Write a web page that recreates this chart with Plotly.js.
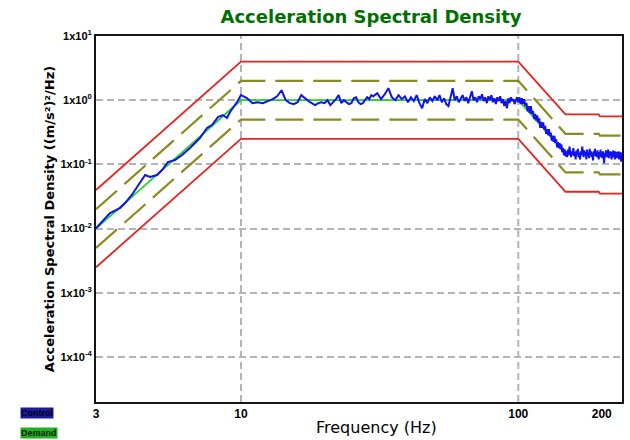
<!DOCTYPE html>
<html>
<head>
<meta charset="utf-8">
<script src="https://cdn.plot.ly/plotly-3.0.1.min.js"></script>
<style>html,body{margin:0;padding:0;background:#fff;}#chart{width:630px;height:440px;}</style>
</head>
<body>
<div id="chart"></div>
<script>
// ---- Demand profile and tolerance lines ----
const profileFreq  = [3, 10, 100, 148, 195, 197, 240];
const demandASD    = [0.01, 1, 1, 0.15, 0.15, 0.14, 0.14];
const abortHigh    = [0.04, 4, 4, 0.6, 0.6, 0.56, 0.56];
const abortLow     = [0.0025, 0.25, 0.25, 0.0375, 0.0375, 0.035, 0.035];
const alarmHigh    = [0.02, 2, 2, 0.3, 0.3, 0.28, 0.28];
const alarmLow     = [0.005, 0.5, 0.5, 0.075, 0.075, 0.07, 0.07];

const ctrlFreqA = [3.0,3.37,3.66,3.82,4.04,4.32,4.51,4.70,4.98,5.19,5.45,5.78,6.13,6.55,7.11,7.54,7.86,8.26,8.61,8.90,9.13,9.68];
const ctrlA     = [0.0101,0.0175,0.0209,0.0251,0.0334,0.0532,0.0684,0.0637,0.0684,0.0818,0.1089,0.117,0.140,0.180,0.258,0.369,0.411,0.547,0.588,0.528,0.655,0.938];

const ctrlFreqB = [10,10.5,11,11.5,12,12.5,13,13.5,14,14.5,15,15.5,16,16.5,17,17.5,18,18.5,19,19.5,
                   20,20.5,21,21.5,22,22.5,23,23.5,24,24.5,25,25.5,26,26.5,27,27.5,28,28.5,29,29.5];
const ctrlB     = [1.20,1.08,0.90,0.93,0.90,0.97,1.04,1.15,1.43,1.00,0.90,0.87,0.93,1.20,1.07,0.97,0.90,0.84,0.90,0.93,
                   0.90,1.00,0.84,0.93,1.04,1.20,0.90,1.00,0.93,0.87,0.90,1.07,1.11,0.93,0.87,0.90,1.00,1.11,1.04,1.20];

const ctrlFreqC = [30,31,32,33,34,35,36,37,38,39,40,41,42,43,44,45,46,47,48,49,
                   50,51,52,53,54,55,56,57,58,59,60,61,62,63,64,65,66,67,68,69,
                   70,71,72,73,74,75,76,77,78,79,80,81,82,83,84,85,86,87,88,89,
                   90,91,92,93,94,95,96,97,98,99];
const ctrlC     = [1.15,1.29,1.04,1.24,1.54,1.11,1.00,1.20,1.04,1.15,0.93,1.11,0.97,1.20,0.90,0.75,1.04,0.90,1.11,0.97,
                   1.15,1.00,1.20,0.93,1.07,0.87,0.81,1.11,1.54,1.00,1.15,0.93,1.04,1.20,0.97,1.11,0.90,1.15,1.38,1.00,
                   1.11,0.93,1.15,1.04,1.24,0.97,1.11,0.90,1.15,1.00,1.20,0.93,1.07,0.87,1.11,0.97,1.15,0.90,1.04,0.81,
                   0.97,0.75,1.07,0.90,1.11,0.97,1.04,0.87,1.00,1.11];

const ctrlFreqD = [100,101,102,103,104,105,106,107,108,109,110,111,112,113,114,115,116,117,118,119,
                   120,121,122,123,124,125,126,127,128,129,130,131,132,133,134,135,136,137,138,139,
                   140,141,142,143,144,145,146,147,148];
const ctrlD     = [0.93,1.11,0.87,1.07,0.87,1.04,0.81,0.91,0.67,0.81,0.63,0.81,0.61,0.68,0.51,0.61,0.48,0.58,0.45,0.52,
                   0.37,0.46,0.37,0.45,0.35,0.40,0.30,0.355,0.285,0.353,0.275,0.314,0.235,0.28,0.225,0.278,0.215,0.247,0.185,0.222,
                   0.179,0.214,0.172,0.206,0.155,0.179,0.139,0.172,0.134];

const ctrlFreqE = [149,150,151,152,153,154,155,156,157,158,159,160,161,162,163,164,165,166,167,168,
                   169,170,171,172,173,174,175,176,177,178,179,180,181,182,183,184,185,186,187,188,
                   189,190,191,192,193,194,195,196,197,198,199,200,201,202,203,204,205,206,207,208,
                   209,210,211,212,213,214,215,216,217,218,219,220,221,222,223,224,225,226,227,228,
                   229,230,231,232,233,234,235,236,237,238,239,240];
const ctrlE     = [0.16,0.13,0.17,0.14,0.19,0.15,0.13,0.16,0.14,0.18,0.135,0.155,0.12,0.165,0.14,0.175,0.13,0.15,0.12,0.16,
                   0.14,0.19,0.145,0.13,0.165,0.14,0.155,0.12,0.17,0.14,0.15,0.125,0.175,0.14,0.16,0.13,0.15,0.115,0.16,0.14,
                   0.175,0.135,0.15,0.13,0.165,0.14,0.12,0.155,0.14,0.17,0.13,0.15,0.125,0.16,0.14,0.105,0.15,0.135,0.165,0.13,
                   0.15,0.14,0.17,0.125,0.15,0.135,0.16,0.14,0.12,0.155,0.135,0.165,0.13,0.145,0.12,0.16,0.14,0.15,0.125,0.155,
                   0.135,0.16,0.12,0.145,0.13,0.155,0.11,0.14,0.125,0.15,0.13,0.14];

const controlFreq = [].concat(ctrlFreqA, ctrlFreqB, ctrlFreqC, ctrlFreqD, ctrlFreqE);
const controlASD  = [].concat(ctrlA, ctrlB, ctrlC, ctrlD, ctrlE);

// ---- Axis tick labels ----
const xTickVals = [3, 10, 100, 200];
const xTickText = ['3', '10', '100', '200'];
const yTickVals = [1e-4, 1e-3, 1e-2, 1e-1, 1e0, 1e1];
const yTickText = ['1x10<sup>-4</sup>', '1x10<sup>-3</sup>', '1x10<sup>-2</sup>', '1x10<sup>-1</sup>', '1x10<sup>0</sup>', '1x10<sup>1</sup>'];
const xGridAt = [10, 100];

const FONT = 'Liberation Sans, Arial, sans-serif';
const WIDE = 'DejaVu Sans, Verdana, sans-serif';
const RED = '#e8221c', OLIVE = '#8a8a1e', GREEN = '#28d428', BLUE = '#1212ee';

const line = (y, color, width, dash) => ({
  x: profileFreq, y: y, type: 'scatter', mode: 'lines',
  line: {color: color, width: width, dash: dash || 'solid'},
  hoverinfo: 'skip', showlegend: false
});

const traces = [
  line(abortHigh, RED, 1.8),
  line(abortLow, RED, 1.8),
  line(alarmHigh, OLIVE, 2.2, '28px,10px'),
  line(alarmLow, OLIVE, 2.2, '28px,10px'),
  line(demandASD, GREEN, 1.8),
  {x: controlFreq, y: controlASD, type: 'scatter', mode: 'lines',
   line: {color: BLUE, width: 2}, showlegend: false}
];

const gridShapes = xGridAt.map(f => ({
  type: 'line', xref: 'x', yref: 'paper', x0: f, x1: f, y0: 0, y1: 1,
  line: {color: '#b4b4b4', width: 2, dash: '7px,4px'}, layer: 'below'
}));

const layout = {
  width: 630, height: 440,
  margin: {l: 96, r: 8, t: 36, b: 38, pad: 0},
  paper_bgcolor: '#ffffff', plot_bgcolor: '#ffffff',
  font: {family: FONT, color: '#000'},
  title: {
    text: '<b>Acceleration Spectral Density</b>',
    font: {family: WIDE, size: 18, color: '#007000'},
    xref: 'container', x: 0.589, xanchor: 'center',
    yref: 'container', y: 0.962, yanchor: 'middle'
  },
  xaxis: {
    type: 'log', range: [Math.log10(3), 2.374],
    tickvals: xTickVals, ticktext: xTickText,
    showgrid: false, zeroline: false, ticks: '',
    showline: true, mirror: true, linecolor: '#151515', linewidth: 2,
    tickfont: {family: FONT, size: 12, color: '#000', weight: 'bold'}
  },
  yaxis: {
    type: 'log', range: [-4.7, 1],
    tickvals: yTickVals, ticktext: yTickText,
    showgrid: true, gridcolor: '#b4b4b4', gridwidth: 2, griddash: '7px,4px',
    zeroline: false, ticks: '',
    showline: true, mirror: true, linecolor: '#151515', linewidth: 2,
    tickfont: {family: FONT, size: 11, color: '#000', weight: 'bold'},
    title: {text: 'Acceleration Spectral Density ((m/s²)²/Hz)', font: {family: WIDE, size: 13, color: '#000', weight: 'bold'}, standoff: 3}
  },
  shapes: gridShapes,
  annotations: [
    {text: 'Frequency (Hz)', xref: 'paper', yref: 'paper', x: 0.534, y: -0.071, xanchor: 'center', yanchor: 'middle',
     showarrow: false, font: {family: WIDE, size: 16, color: '#000'}},
    {text: '<b>Control</b>', xref: 'paper', yref: 'paper', x: -0.1445, y: -0.030, xanchor: 'left', yanchor: 'middle',
     showarrow: false, bgcolor: '#1c1c96', borderpad: 0, font: {family: FONT, size: 9, color: '#000020'}},
    {text: '<b>Demand</b>', xref: 'paper', yref: 'paper', x: -0.1445, y: -0.0847, xanchor: 'left', yanchor: 'middle',
     showarrow: false, bgcolor: '#22b022', borderpad: 0, font: {family: FONT, size: 9, color: '#002000'}}
  ]
};

Plotly.newPlot('chart', traces, layout, {staticPlot: true, displayModeBar: false});
</script>
</body>
</html>
